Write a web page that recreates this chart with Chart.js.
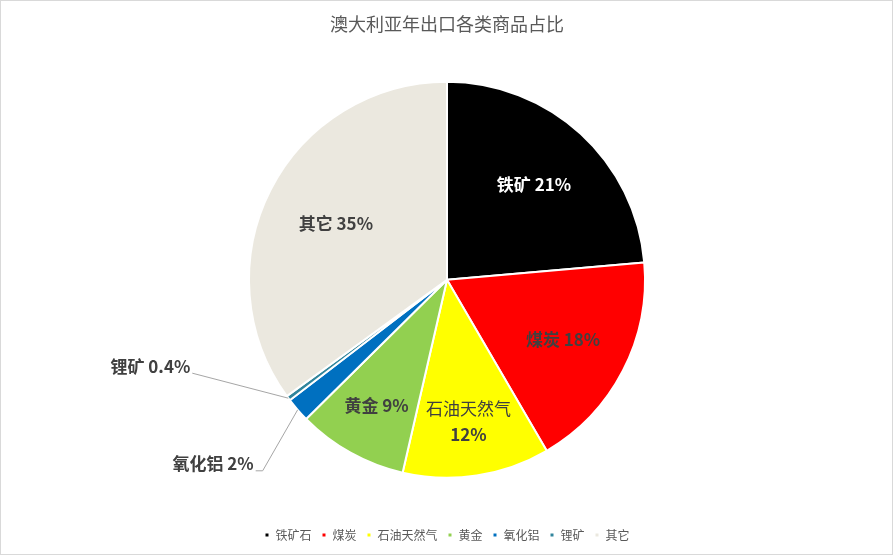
<!DOCTYPE html>
<html>
<head>
<meta charset="utf-8">
<script src="https://cdn.jsdelivr.net/npm/chart.js@4.4.1/dist/chart.umd.min.js"></script>
<style>
html, body { margin: 0; padding: 0; background: #fff; }
canvas { display: block; }
</style>
</head>
<body>
<canvas id="piechart" width="894" height="555"></canvas>
<script>
var categories = ['铁矿石', '煤炭', '石油天然气', '黄金', '氧化铝', '锂矿', '其它'];
var shares = [23.6, 18, 12, 9, 2, 0.4, 35];
// the data labels as printed on the slices
var labelNames = ['铁矿', '煤炭', '石油天然气', '黄金', '氧化铝', '锂矿', '其它'];
var labelPercents = ['21%', '18%', '12%', '9%', '2%', '0.4%', '35%'];

var sliceColors = ['#000000', '#FF0000', '#FFFF00', '#92D050', '#0070C0', '#31859C', '#EBE8DF'];
var labelColors = ['#FFFFFF', '#404040', '#404040', '#404040', '#404040', '#404040', '#404040'];
var labelRadius = [0.65, 0.66, 0.72, 0.73, 1, 1, 0.63];
var FONT = '"Noto Sans CJK SC", "Noto Sans", sans-serif';

// small slices get their label outside, with a leader line (offsets from the slice edge)
var leaders = {
    4: [[-35, 61], [-42, 61]],
    5: [[-96, -25]]
};

var frame = {
    id: 'frame',
    beforeDraw: function(chart) {
        var ctx = chart.ctx;
        ctx.save();
        ctx.fillStyle = '#fff';
        ctx.fillRect(0, 0, chart.width, chart.height);
        ctx.restore();
    },
    afterDraw: function(chart) {
        var ctx = chart.ctx;
        ctx.save();
        ctx.strokeStyle = '#D9D9D9';
        ctx.lineWidth = 1;
        ctx.strokeRect(0.5, 0.5, chart.width - 2, chart.height - 1);
        ctx.restore();
    }
};

var sliceLabels = {
    id: 'sliceLabels',
    afterDatasetsDraw: function(chart) {
        var ctx = chart.ctx;
        var meta = chart.getDatasetMeta(0);
        ctx.save();
        ctx.font = 'bold 17px ' + FONT;
        ctx.textBaseline = 'middle';
        meta.data.forEach(function(arc, i) {
            var p = arc.getProps(['x', 'y', 'startAngle', 'endAngle', 'outerRadius'], true);
            var mid = (p.startAngle + p.endAngle) / 2;
            ctx.fillStyle = labelColors[i];
            if (leaders[i]) {
                var ex = p.x + Math.cos(mid) * p.outerRadius;
                var ey = p.y + Math.sin(mid) * p.outerRadius;
                ctx.strokeStyle = '#A6A6A6';
                ctx.lineWidth = 1;
                ctx.beginPath();
                ctx.moveTo(ex, ey);
                var lx = ex, ly = ey;
                leaders[i].forEach(function(o) {
                    lx = ex + o[0];
                    ly = ey + o[1];
                    ctx.lineTo(lx, ly);
                });
                ctx.stroke();
                ctx.textAlign = 'right';
                ctx.fillText(labelNames[i] + ' ' + labelPercents[i], lx - 2, ly - 7);
                return;
            }
            var r = p.outerRadius * labelRadius[i];
            var cx = p.x + Math.cos(mid) * r;
            var cy = p.y + Math.sin(mid) * r;
            ctx.textAlign = 'center';
            if (labelNames[i].length > 3) {
                ctx.font = '17px ' + FONT;
                ctx.fillText(labelNames[i], cx, cy - 12);
                ctx.font = 'bold 17px ' + FONT;
                ctx.fillText(labelPercents[i], cx, cy + 14);
            } else {
                ctx.fillText(labelNames[i] + ' ' + labelPercents[i], cx, cy);
            }
        });
        ctx.restore();
    }
};

var chart1 = document.getElementById('piechart');
var myChart1 = new Chart(chart1, {
    type: 'pie',
    data: {
        labels: categories,
        datasets: [{
            data: shares,
            backgroundColor: sliceColors,
            borderColor: '#FFFFFF',
            borderWidth: 2,
            radius: 198
        }]
    },
    options: {
        responsive: false,
        animation: false,
        layout: {
            padding: { bottom: 4 }
        },
        plugins: {
            title: {
                display: true,
                text: '澳大利亚年出口各类商品占比',
                color: '#595959',
                font: { family: FONT, size: 18, weight: 'normal' },
                padding: { top: 13, bottom: 6 }
            },
            legend: {
                display: true,
                position: 'bottom',
                labels: {
                    boxWidth: 5,
                    boxHeight: 5,
                    padding: 10,
                    color: '#595959',
                    font: { family: FONT, size: 12 }
                }
            },
            tooltip: { enabled: false }
        }
    },
    plugins: [frame, sliceLabels]
});
</script>
</body>
</html>
